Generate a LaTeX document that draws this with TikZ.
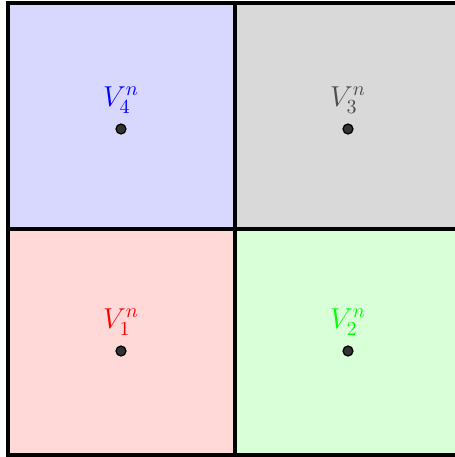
\documentclass[tikz,border=0pt]{standalone}
\usetikzlibrary{positioning}
\definecolor{cblue}{HTML}{D8D8FF}
\definecolor{cgray}{HTML}{D9D9D9}
\definecolor{cred}{HTML}{FFD8D8}
\definecolor{cgreen}{HTML}{D8FFD8}
\definecolor{tgray}{HTML}{4D4D4D}
\definecolor{tgreen}{HTML}{00FF00}
\begin{document}
\begin{tikzpicture}[x=0.5pt,y=-0.5pt,
  cell/.style={draw=black,line width=1.7pt},
  pt/.style={circle,draw=black,fill=black!80,line width=0.6pt,inner sep=0pt,minimum size=5pt},
  lab/.style={anchor=base,inner sep=0pt,font=\fontsize{14}{16}\selectfont}]
\useasboundingbox (0,0) rectangle (455,457);
\begin{scope}
\clip (0,0) rectangle (455,457);
\fill[cblue] (8,3) rectangle (235,229);
\fill[cgray] (235,3) rectangle (462,229);
\fill[cred] (8,229) rectangle (235,455);
\fill[cgreen] (235,229) rectangle (462,455);
\draw[cell] (8,3) rectangle (235,229);
\draw[cell] (235,3) rectangle (462,229);
\draw[cell] (8,229) rectangle (235,455);
\draw[cell] (235,229) rectangle (462,455);
\end{scope}
\node[pt] (p4) at (121,129) {};
\node[pt] (p3) at (348,129) {};
\node[pt] (p1) at (121,351) {};
\node[pt] (p2) at (348,351) {};
\node[lab,text=blue] (l4) at (121,106) {$V_4^n$};
\node[lab,text=tgray] (l3) at (348,106) {$V_3^n$};
\node[lab,text=red] (l1) at (121,328) {$V_1^n$};
\node[lab,text=tgreen] (l2) at (348,328) {$V_2^n$};
\end{tikzpicture}
\end{document}
